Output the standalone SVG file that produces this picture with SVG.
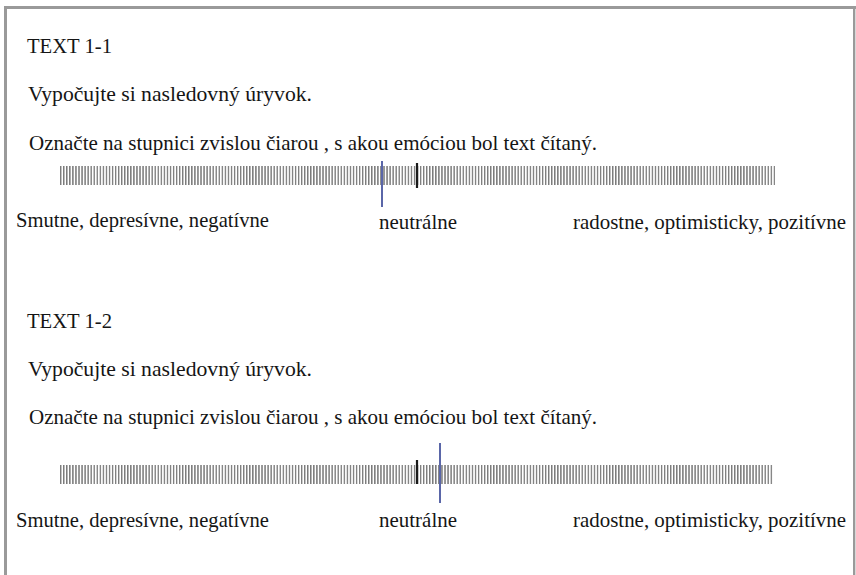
<svg xmlns="http://www.w3.org/2000/svg" width="856" height="575" viewBox="0 0 856 575">
<style>
text{font-family:"Liberation Serif","DejaVu Serif","Times New Roman",serif;font-size:21px;fill:#151515}
.blue{stroke:#5a66a8;stroke-width:2}
.blk{stroke:#1a1a1a;stroke-width:2.2}
</style>
<defs>
<pattern id="ticks" x="60" y="0" width="3.05" height="40" patternUnits="userSpaceOnUse">
<rect x="0" y="0" width="1.4" height="40" fill="#7a7a7a"/>
</pattern>
</defs>
<rect width="856" height="575" fill="#fff"/>
<path d="M5.5,575 V7.5 H854.5 V575" fill="none" stroke="#9a9a9a" stroke-width="3"/>
<line x1="855.5" y1="9" x2="855.5" y2="575" stroke="#d8d8d8" stroke-width="1"/>
<g id="section1">
<text x="27" y="53" textLength="85" lengthAdjust="spacingAndGlyphs">TEXT 1-1</text>
<text x="28" y="101" textLength="284" lengthAdjust="spacingAndGlyphs">Vypočujte si nasledovný úryvok.</text>
<text x="29" y="150" textLength="568" lengthAdjust="spacingAndGlyphs">Označte na stupnici zvislou čiarou , s akou emóciou bol text čítaný.</text>
<g id="scale1">
<rect x="60" y="166" width="715" height="19" fill="url(#ticks)"/>
<line class="blue" x1="382" y1="161" x2="382" y2="207"/>
<line class="blk" x1="417" y1="163" x2="417" y2="188"/>
</g>
<text x="16" y="227" textLength="253" lengthAdjust="spacingAndGlyphs">Smutne, depresívne, negatívne</text>
<text x="379" y="229" textLength="78" lengthAdjust="spacingAndGlyphs">neutrálne</text>
<text x="573" y="229" textLength="273" lengthAdjust="spacingAndGlyphs">radostne, optimisticky, pozitívne</text>
</g>
<g id="section2">
<text x="27" y="328" textLength="85" lengthAdjust="spacingAndGlyphs">TEXT 1-2</text>
<text x="28" y="376" textLength="284" lengthAdjust="spacingAndGlyphs">Vypočujte si nasledovný úryvok.</text>
<text x="29" y="424" textLength="568" lengthAdjust="spacingAndGlyphs">Označte na stupnici zvislou čiarou , s akou emóciou bol text čítaný.</text>
<g id="scale2">
<rect x="60" y="465" width="713" height="19" fill="url(#ticks)"/>
<line class="blk" x1="417" y1="460" x2="417" y2="484"/>
<line class="blue" x1="440" y1="443" x2="440" y2="503"/>
</g>
<text x="16" y="527" textLength="253" lengthAdjust="spacingAndGlyphs">Smutne, depresívne, negatívne</text>
<text x="379" y="527" textLength="78" lengthAdjust="spacingAndGlyphs">neutrálne</text>
<text x="573" y="527" textLength="273" lengthAdjust="spacingAndGlyphs">radostne, optimisticky, pozitívne</text>
</g>
</svg>
